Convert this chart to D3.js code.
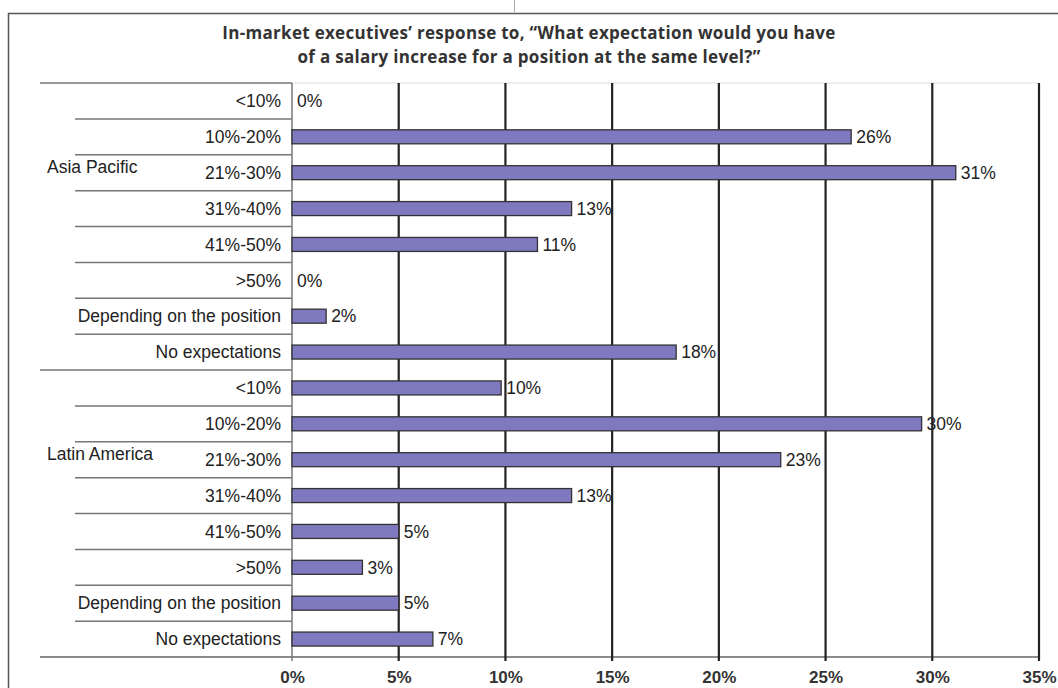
<!DOCTYPE html>
<html>
<head>
<meta charset="utf-8">
<script src="https://cdn.jsdelivr.net/npm/d3@7"></script>
<style>
  body { margin: 0; background: #fff; }
  svg { display: block; }
</style>
</head>
<body>
<svg id="chart"></svg>
<script>
// data
const groups = ["Asia Pacific", "Latin America"];
const categories = ["<10%", "10%-20%", "21%-30%", "31%-40%", "41%-50%", ">50%",
                    "Depending on the position", "No expectations"];
const asiaPacific = [0, 26.2, 31.1, 13.1, 11.5, 0, 1.6, 18.0];
const asiaLabels = ["0%", "26%", "31%", "13%", "11%", "0%", "2%", "18%"];
const latinAmerica = [9.8, 29.5, 22.9, 13.1, 5.0, 3.3, 5.0, 6.6];
const latinLabels = ["10%", "30%", "23%", "13%", "5%", "3%", "5%", "7%"];
const xTicks = [0, 5, 10, 15, 20, 25, 30, 35];
const titleLines = [
  "In-market executives\u2019 response to, \u201cWhat expectation would you have",
  "of a salary increase for a position at the same level?\u201d"
];

const W = 1058, H = 688;
const plotLeft = 292, plotRight = 1039, plotTop = 83, plotBottom = 657;
const font = "'Liberation Sans', Arial, sans-serif";

const rows = [];
[asiaPacific, latinAmerica].forEach((vals, g) => {
  const labs = g === 0 ? asiaLabels : latinLabels;
  categories.forEach((c, i) => {
    rows.push({group: groups[g], cat: c, key: groups[g] + "|" + c,
               value: vals[i], label: labs[i]});
  });
});

const svg = d3.select("#chart").attr("width", W).attr("height", H);

const x = d3.scaleLinear().domain([0, 35]).range([plotLeft, plotRight]);
const y = d3.scaleBand().domain(rows.map(d => d.key)).range([plotTop, plotBottom]).padding(0);
const bw = y.bandwidth();
const barH = 14;

// outer frame
svg.append("path")
    .attr("d", `M8.5,${H} L8.5,13.5 L${W},13.5`)
    .attr("fill", "none")
    .attr("stroke", "#555")
    .attr("stroke-width", 1.5);
svg.append("line")
    .attr("x1", 514.5).attr("x2", 514.5).attr("y1", 0).attr("y2", 12)
    .attr("stroke", "#aaa").attr("stroke-width", 1);

// title
svg.append("g").selectAll("text")
    .data(titleLines)
  .enter().append("text")
    .attr("x", 529)
    .attr("y", (d, i) => 39 + i * 24)
    .attr("text-anchor", "middle")
    .style("font-family", "'Open Sans', sans-serif")
    .style("font-weight", "bold")
    .style("font-size", "17px")
    .style("letter-spacing", "0.3px")
    .style("fill", "#333")
    .text(d => d);

// faint top line over the plot
svg.append("line")
    .attr("x1", plotLeft).attr("x2", plotRight).attr("y1", plotTop).attr("y2", plotTop)
    .attr("stroke", "#ddd").attr("stroke-width", 1);

// row separators
const seps = d3.range(0, rows.length + 1);
svg.append("g").selectAll("line")
    .data(seps)
  .enter().append("line")
    .attr("x1", i => i % categories.length === 0 ? 40 : 75)
    .attr("x2", i => i === rows.length ? plotRight : plotLeft)
    .attr("y1", i => plotTop + i * bw)
    .attr("y2", i => plotTop + i * bw)
    .attr("stroke", i => i === rows.length ? "#666" : "#777")
    .attr("stroke-width", 1.5);

// vertical gridlines
svg.append("g").selectAll("line")
    .data(xTicks.slice(1))
  .enter().append("line")
    .attr("x1", d => x(d)).attr("x2", d => x(d))
    .attr("y1", plotTop).attr("y2", plotBottom + 4)
    .attr("stroke", "#222")
    .attr("stroke-width", 2.2);
svg.append("line")
    .attr("x1", x(0)).attr("x2", x(0))
    .attr("y1", plotTop).attr("y2", plotBottom + 4)
    .attr("stroke", "#777").attr("stroke-width", 1.5);

// bars
svg.append("g").selectAll("rect")
    .data(rows.filter(d => d.value > 0))
  .enter().append("rect")
    .attr("x", x(0))
    .attr("y", d => y(d.key) + (bw - barH) / 2)
    .attr("width", d => x(d.value) - x(0))
    .attr("height", barH)
    .attr("fill", "#7f79c0")
    .attr("stroke", "#333")
    .attr("stroke-width", 1.3);

// value labels
svg.append("g").selectAll("text")
    .data(rows)
  .enter().append("text")
    .attr("x", d => x(d.value) + 5)
    .attr("y", d => y(d.key) + bw / 2)
    .attr("dy", "0.36em")
    .style("font-family", font)
    .style("font-size", "17.5px")
    .style("fill", "#222")
    .text(d => d.label);

// category labels
svg.append("g").selectAll("text")
    .data(rows)
  .enter().append("text")
    .attr("x", 281)
    .attr("y", d => y(d.key) + bw / 2)
    .attr("dy", "0.36em")
    .attr("text-anchor", "end")
    .style("font-family", font)
    .style("font-size", "17.5px")
    .style("fill", "#222")
    .text(d => d.cat);

// group labels
svg.append("g").selectAll("text")
    .data(groups)
  .enter().append("text")
    .attr("x", 47)
    .attr("y", g => y(g + "|" + categories[2]) + bw / 2 - 6)
    .attr("dy", "0.36em")
    .style("font-family", font)
    .style("font-size", "17.5px")
    .style("fill", "#222")
    .text(g => g);

// x axis
const xAxis = svg.append("g")
    .attr("transform", `translate(0,${plotBottom})`)
    .call(d3.axisBottom(x).tickValues(xTicks).tickFormat(d => d + "%").tickSize(0).tickPadding(14));
xAxis.select(".domain").remove();
xAxis.selectAll("text")
    .style("font-family", font)
    .style("font-size", "17px")
    .style("font-weight", "bold")
    .style("fill", "#333");
</script>
</body>
</html>
